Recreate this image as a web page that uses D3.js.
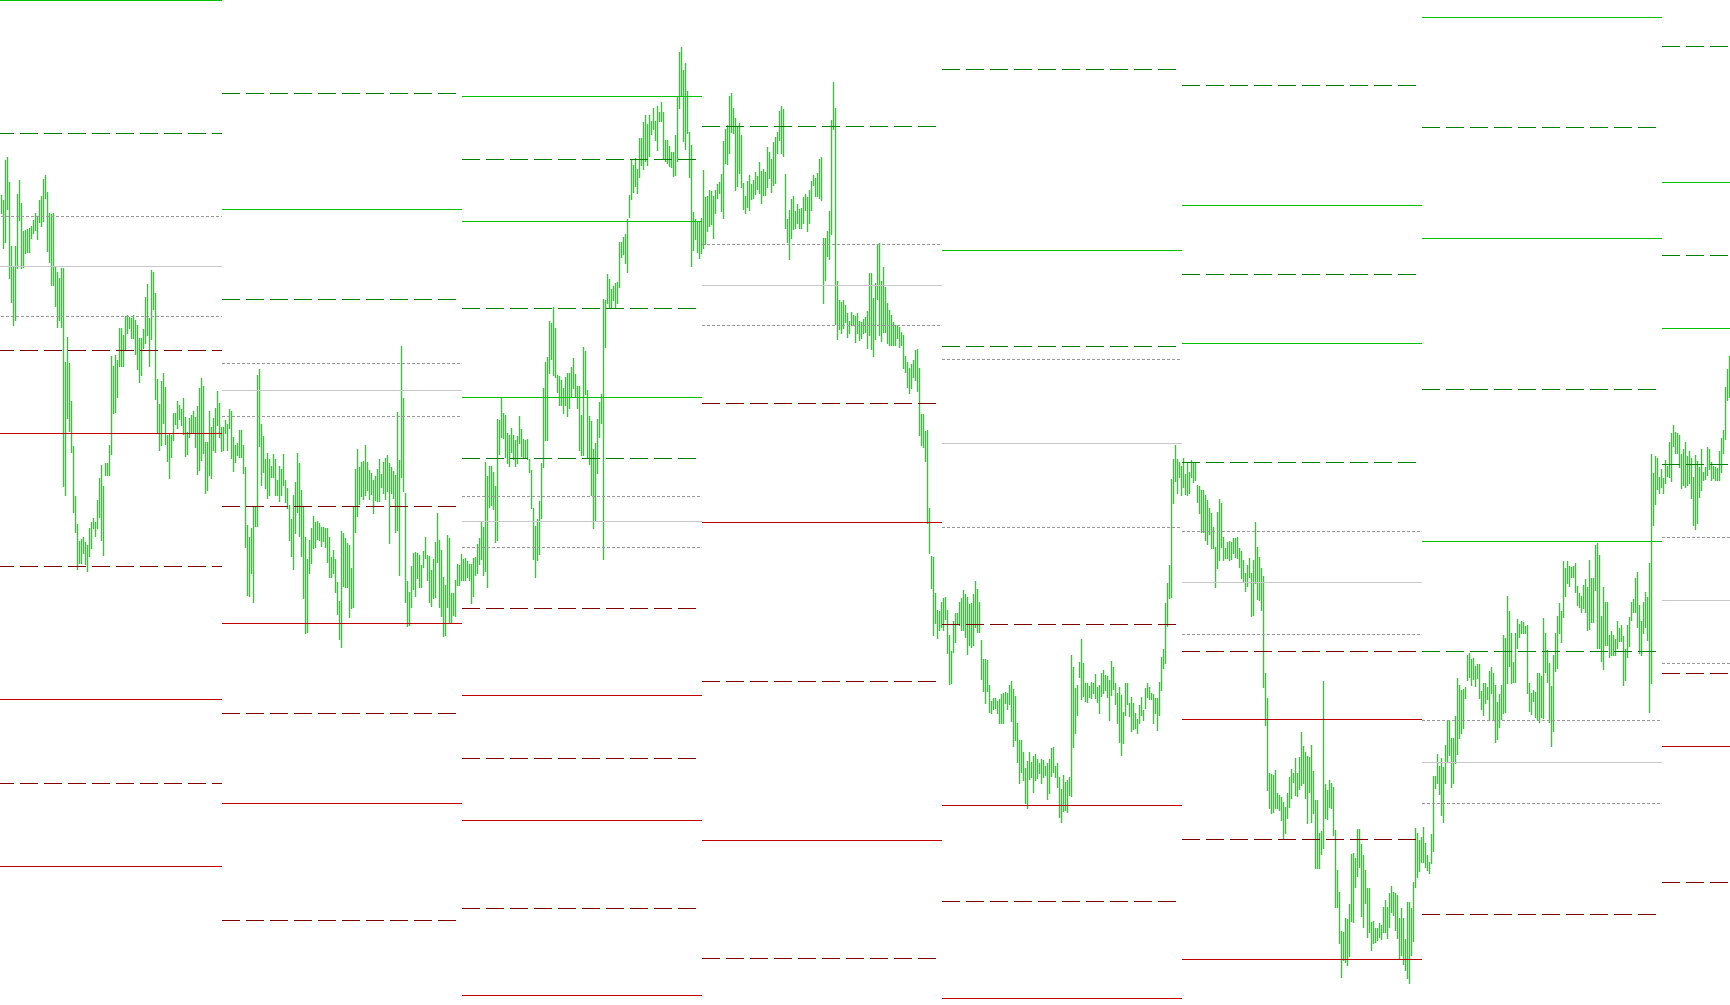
<!DOCTYPE html>
<html><head><meta charset="utf-8">
<script src="https://cdn.jsdelivr.net/npm/d3@7"></script>
<style>html,body{margin:0;padding:0;background:#fff;overflow:hidden}</style>
</head><body><svg id="chart" width="1730" height="1005"></svg>
<script>
// first bar index of each daily session
const sessionStarts = [-2, 111, 231, 351, 471, 591, 711, 831];
const barsPerSession = 120;

// [high, low] price bars per session
const bars0 = [[1805,1787],[1800,1752],[1840,1758],[1843,1791],[1818,1722],[1754,1698],[1733,1675],[1754,1680],[1806,1732],[1820,1780],
[1797,1732],[1769,1733],[1770,1747],[1771,1748],[1772,1748],[1774,1762],[1780,1767],[1787,1770],[1783,1761],[1800,1778],
[1804,1774],[1821,1779],[1825,1802],[1808,1749],[1787,1738],[1786,1715],[1787,1715],[1733,1694],[1728,1673],[1722,1680],
[1732,1673],[1732,1514],[1638,1505],[1663,1582],[1637,1569],[1599,1548],[1554,1488],[1504,1468],[1476,1431],[1459,1437],
[1461,1437],[1463,1447],[1458,1436],[1455,1429],[1472,1444],[1478,1452],[1482,1472],[1478,1464],[1500,1472],[1522,1483],
[1535,1460],[1514,1445],[1537,1525],[1537,1525],[1555,1525],[1644,1546],[1634,1587],[1645,1588],[1640,1603],[1672,1634],
[1672,1634],[1665,1634],[1684,1650],[1685,1667],[1683,1672],[1682,1662],[1685,1662],[1680,1646],[1675,1631],[1662,1618],
[1662,1625],[1671,1652],[1703,1657],[1716,1665],[1682,1634],[1730,1661],[1728,1691],[1707,1601],[1621,1567],[1596,1550],
[1619,1555],[1627,1577],[1613,1556],[1565,1539],[1566,1522],[1565,1543],[1587,1560],[1587,1576],[1599,1572],[1595,1581],
[1591,1575],[1602,1566],[1583,1544],[1568,1546],[1582,1563],[1585,1567],[1589,1568],[1583,1553],[1594,1526],[1612,1530],
[1622,1540],[1614,1547],[1558,1507],[1558,1510],[1589,1525],[1573,1522],[1582,1550],[1592,1548],[1609,1575],[1597,1563],
[1573,1549]];
const bars1 = [[1573,1550],[1580,1567],[1576,1550],[1591,1572],[1589,1542],[1563,1529],[1555,1538],[1557,1545],[1570,1543],[1570,1543],
[1555,1527],[1533,1453],[1475,1405],[1463,1404],[1472,1427],[1493,1398],[1494,1474],[1625,1474],[1631,1554],[1576,1515],
[1564,1528],[1541,1512],[1547,1502],[1541,1505],[1534,1523],[1546,1523],[1541,1505],[1520,1505],[1534,1499],[1531,1505],
[1546,1515],[1520,1498],[1512,1492],[1495,1460],[1481,1444],[1505,1431],[1518,1467],[1547,1488],[1537,1464],[1510,1444],
[1493,1402],[1463,1367],[1441,1368],[1460,1427],[1472,1437],[1484,1452],[1478,1453],[1479,1461],[1477,1460],[1473,1454],
[1473,1459],[1472,1453],[1472,1438],[1463,1423],[1443,1423],[1450,1427],[1441,1408],[1418,1386],[1399,1361],[1469,1353],
[1467,1414],[1462,1413],[1457,1413],[1455,1383],[1432,1392],[1493,1393],[1531,1468],[1551,1484],[1533,1496],[1538,1504],
[1539,1501],[1555,1505],[1538,1510],[1530,1501],[1527,1506],[1520,1487],[1524,1500],[1531,1499],[1541,1499],[1526,1513],
[1538,1507],[1542,1501],[1545,1509],[1537,1457],[1533,1507],[1529,1502],[1525,1468],[1588,1470],[1540,1425],[1654,1523],
[1602,1509],[1507,1398],[1419,1374],[1408,1375],[1434,1393],[1447,1411],[1448,1404],[1447,1422],[1445,1413],[1435,1413],
[1449,1433],[1463,1442],[1445,1420],[1444,1398],[1430,1394],[1441,1402],[1458,1403],[1487,1438],[1460,1393],[1450,1384],
[1423,1364],[1415,1365],[1465,1393],[1462,1377],[1407,1377],[1407,1385],[1420,1384],[1436,1415],[1435,1415],[1446,1420]];
const bars2 = [[1441,1420],[1442,1420],[1439,1423],[1436,1420],[1436,1397],[1442,1404],[1443,1425],[1456,1427],[1462,1436],[1479,1441],
[1473,1425],[1538,1429],[1524,1413],[1534,1493],[1534,1495],[1528,1491],[1514,1458],[1581,1460],[1580,1546],[1603,1563],
[1587,1562],[1585,1543],[1567,1537],[1565,1534],[1572,1548],[1565,1541],[1560,1534],[1564,1537],[1584,1557],[1571,1544],
[1561,1543],[1560,1543],[1561,1541],[1541,1528],[1530,1492],[1492,1441],[1474,1423],[1481,1440],[1499,1446],[1537,1482],
[1612,1533],[1638,1560],[1643,1560],[1679,1627],[1677,1641],[1693,1625],[1672,1623],[1625,1608],[1624,1595],[1620,1595],
[1612,1587],[1623,1595],[1627,1584],[1627,1592],[1633,1604],[1642,1612],[1626,1603],[1614,1592],[1614,1550],[1585,1545],
[1653,1545],[1649,1606],[1610,1542],[1584,1536],[1579,1505],[1551,1472],[1557,1479],[1581,1527],[1598,1563],[1606,1577],
[1701,1441],[1700,1653],[1726,1697],[1721,1692],[1711,1692],[1714,1700],[1717,1692],[1718,1697],[1758,1713],[1758,1743],
[1763,1746],[1766,1737],[1781,1728],[1805,1783],[1841,1801],[1835,1808],[1842,1814],[1831,1807],[1862,1823],[1862,1835],
[1878,1831],[1885,1839],[1876,1835],[1885,1844],[1879,1866],[1892,1871],[1879,1860],[1894,1850],[1888,1879],[1898,1879],
[1888,1841],[1860,1839],[1860,1837],[1854,1834],[1848,1833],[1848,1824],[1865,1825],[1903,1839],[1948,1892],[1953,1904],
[1930,1859],[1937,1851],[1909,1867],[1868,1823],[1855,1734],[1788,1750],[1781,1761],[1778,1748],[1778,1742],[1782,1747]];
const bars3 = [[1830,1752],[1803,1756],[1804,1769],[1810,1774],[1809,1776],[1804,1762],[1810,1787],[1816,1802],[1818,1807],[1826,1789],
[1859,1782],[1871,1837],[1875,1836],[1904,1847],[1907,1868],[1892,1867],[1882,1810],[1874,1814],[1877,1827],[1865,1813],
[1817,1791],[1804,1787],[1819,1793],[1825,1790],[1816,1801],[1820,1802],[1828,1806],[1824,1811],[1838,1807],[1829,1797],
[1831,1805],[1828,1805],[1853,1813],[1848,1822],[1841,1808],[1858,1815],[1863,1817],[1868,1847],[1889,1860],[1894,1847],
[1891,1844],[1826,1772],[1781,1758],[1790,1741],[1801,1762],[1804,1771],[1789,1772],[1796,1777],[1791,1772],[1792,1772],
[1803,1777],[1806,1790],[1803,1769],[1810,1777],[1819,1790],[1825,1815],[1822,1804],[1827,1804],[1841,1802],[1843,1800],
[1762,1697],[1762,1720],[1769,1744],[1789,1741],[1880,1766],[1918,1871],[1892,1676],[1719,1661],[1700,1671],[1698,1667],
[1700,1672],[1695,1678],[1687,1663],[1679,1667],[1688,1675],[1685,1676],[1684,1658],[1687,1667],[1679,1660],[1678,1662],
[1681,1667],[1683,1668],[1689,1652],[1727,1665],[1727,1651],[1702,1644],[1717,1661],[1756,1701],[1757,1665],[1719,1659],
[1733,1668],[1713,1668],[1697,1657],[1690,1655],[1685,1655],[1678,1655],[1675,1655],[1675,1662],[1673,1653],[1668,1655],
[1665,1632],[1644,1628],[1638,1613],[1632,1607],[1636,1612],[1640,1623],[1650,1620],[1651,1609],[1632,1565],[1586,1555],
[1586,1553],[1569,1539],[1570,1477],[1492,1447],[1444,1412],[1443,1365],[1407,1377],[1390,1362],[1389,1370],[1398,1373]];
const bars4 = [[1402,1370],[1403,1381],[1390,1347],[1365,1316],[1349,1317],[1379,1348],[1387,1358],[1387,1377],[1398,1375],[1402,1370],
[1410,1370],[1406,1363],[1403,1346],[1396,1355],[1397,1353],[1406,1355],[1419,1373],[1411,1368],[1398,1368],[1360,1321],
[1341,1309],[1341,1297],[1340,1309],[1315,1288],[1299,1287],[1302,1291],[1302,1292],[1299,1287],[1301,1277],[1306,1277],
[1307,1277],[1308,1297],[1307,1291],[1315,1296],[1319,1279],[1311,1254],[1304,1260],[1277,1238],[1260,1217],[1260,1228],
[1248,1220],[1232,1197],[1239,1192],[1248,1221],[1238,1223],[1244,1208],[1246,1220],[1241,1222],[1237,1227],[1241,1217],
[1240,1223],[1234,1225],[1237,1201],[1241,1207],[1252,1224],[1253,1228],[1234,1223],[1237,1213],[1223,1183],[1211,1178],
[1225,1189],[1218,1190],[1220,1188],[1223,1205],[1345,1204],[1333,1253],[1312,1267],[1315,1285],[1338,1323],[1361,1301],
[1337,1304],[1317,1299],[1317,1298],[1314,1303],[1318,1302],[1317,1307],[1326,1302],[1313,1298],[1315,1287],[1327,1304],
[1330,1307],[1325,1310],[1324,1303],[1320,1280],[1339,1305],[1333,1311],[1317,1296],[1307,1277],[1313,1258],[1305,1245],
[1288,1257],[1317,1285],[1317,1296],[1297,1284],[1303,1269],[1297,1271],[1287,1272],[1281,1267],[1295,1277],[1303,1285],
[1290,1280],[1312,1292],[1317,1303],[1313,1301],[1307,1301],[1306,1277],[1302,1287],[1302,1270],[1318,1285],[1343,1310],
[1351,1332],[1397,1337],[1417,1374],[1435,1402],[1521,1403],[1541,1497],[1555,1519],[1541,1507],[1538,1523],[1534,1505]];
const bars5 = [[1542,1513],[1526,1506],[1537,1505],[1528,1507],[1540,1523],[1538,1518],[1537,1520],[1515,1498],[1514,1487],[1510,1468],
[1510,1468],[1505,1460],[1500,1456],[1492,1466],[1487,1452],[1473,1452],[1453,1413],[1488,1432],[1501,1440],[1497,1453],
[1463,1440],[1452,1442],[1458,1442],[1459,1440],[1458,1441],[1462,1447],[1462,1443],[1463,1442],[1452,1433],[1449,1422],
[1440,1418],[1427,1409],[1435,1414],[1442,1423],[1427,1384],[1440,1385],[1478,1417],[1453,1401],[1443,1400],[1432,1390],
[1424,1313],[1327,1275],[1302,1210],[1227,1192],[1226,1187],[1225,1188],[1230,1192],[1207,1192],[1205,1190],[1203,1180],
[1198,1162],[1193,1167],[1207,1182],[1223,1193],[1231,1202],[1227,1218],[1242,1205],[1227,1204],[1243,1211],[1268,1215],
[1254,1217],[1248,1202],[1244,1177],[1243,1208],[1255,1178],[1229,1187],[1200,1132],[1200,1132],[1167,1132],[1169,1146],
[1319,1152],[1216,1182],[1210,1181],[1220,1193],[1217,1192],[1213,1165],[1170,1093],[1130,1093],[1108,1057],[1069,1023],
[1068,1040],[1082,1038],[1081,1035],[1096,1044],[1146,1079],[1147,1078],[1142,1113],[1171,1124],[1171,1133],[1156,1084],
[1145,1073],[1130,1097],[1112,1063],[1112,1068],[1078,1050],[1079,1057],[1072,1058],[1072,1060],[1077,1063],[1075,1061],
[1093,1068],[1100,1068],[1093,1062],[1107,1073],[1114,1088],[1108,1085],[1107,1070],[1105,1062],[1082,1042],[1092,1045],
[1082,1036],[1061,1030],[1098,1022],[1098,1017],[1092,1045],[1118,1059],[1172,1113],[1167,1123],[1160,1129],[1163,1138]];
const bars6 = [[1173,1138],[1157,1133],[1145,1130],[1138,1127],[1166,1137],[1224,1149],[1224,1212],[1246,1217],[1234,1206],[1242,1185],
[1233,1178],[1255,1217],[1280,1238],[1279,1245],[1262,1213],[1262,1217],[1284,1237],[1322,1246],[1315,1262],[1310,1267],
[1311,1272],[1313,1302],[1345,1320],[1347,1323],[1341,1315],[1342,1321],[1334,1314],[1336,1322],[1336,1302],[1309,1291],
[1317,1285],[1317,1297],[1313,1301],[1329,1280],[1333,1307],[1327,1280],[1315,1258],[1298,1261],[1306,1273],[1315,1281],
[1365,1287],[1362,1288],[1404,1317],[1389,1334],[1367,1317],[1338,1318],[1367,1318],[1381,1352],[1376,1363],[1379,1367],
[1378,1367],[1374,1367],[1375,1307],[1317,1289],[1307,1286],[1310,1299],[1308,1283],[1327,1280],[1327,1278],[1324,1283],
[1382,1282],[1367,1328],[1350,1318],[1337,1278],[1314,1254],[1345,1269],[1367,1329],[1384,1332],[1397,1367],[1389,1358],
[1439,1383],[1432,1404],[1439,1417],[1434,1414],[1433,1423],[1434,1423],[1437,1408],[1414,1395],[1407,1393],[1404,1388],
[1415,1392],[1421,1388],[1413,1370],[1440,1371],[1422,1378],[1422,1378],[1455,1410],[1457,1352],[1445,1352],[1384,1339],
[1413,1331],[1398,1355],[1398,1355],[1365,1343],[1369,1345],[1365,1345],[1361,1345],[1379,1352],[1372,1359],[1375,1359],
[1364,1315],[1351,1320],[1375,1343],[1383,1354],[1398,1380],[1401,1388],[1422,1388],[1428,1373],[1395,1347],[1379,1345],
[1398,1367],[1408,1373],[1403,1360],[1437,1288],[1546,1317],[1527,1475],[1544,1496],[1542,1511],[1523,1507],[1531,1513]];
const bars7 = [[1522,1507],[1540,1517],[1534,1524],[1558,1523],[1567,1519],[1575,1554],[1568,1547],[1567,1547],[1565,1533],[1546,1512],
[1551,1515],[1558,1513],[1544,1515],[1549,1517],[1542,1502],[1523,1475],[1545,1471],[1539,1477],[1533,1503],[1551,1510],
[1528,1520],[1533,1521],[1553,1525],[1551,1531],[1538,1520],[1534,1522],[1533,1520],[1532,1520],[1549,1520],[1562,1528],
[1570,1547],[1613,1561],[1631,1600],[1644,1603]];

// pivot levels per session: [kind, price]
// kinds: R = resistance, RM = resistance midpoint, PB = pivot band, P = pivot, SM = support midpoint, S = support
const levels0 = [["R",2000],["RM",1867],["PB",1784],["P",1734],["PB",1684],["SM",1650],["S",1567],["SM",1434],["S",1301],["SM",1217],["S",1134]];
const levels1 = [["RM",1907],["R",1791],["RM",1701],["PB",1637],["P",1610],["PB",1584],["SM",1494],["S",1377],["SM",1287],["S",1197],["SM",1080]];
const levels2 = [["R",1904],["RM",1841],["R",1779],["RM",1692],["R",1603],["RM",1542],["PB",1504],["P",1479],["PB",1453],["SM",1392],["S",1305],["SM",1242],["S",1180],["SM",1092],["S",1005]];
const levels3 = [["RM",1874],["PB",1756],["P",1715],["PB",1675],["SM",1597],["S",1478],["SM",1319],["S",1160],["SM",1042]];
const levels4 = [["RM",1931],["R",1750],["RM",1654],["PB",1641],["P",1557],["PB",1473],["SM",1376],["S",1195],["SM",1099],["S",1002]];
const levels5 = [["RM",1915],["R",1795],["RM",1726],["R",1657],["RM",1538],["PB",1469],["P",1418],["PB",1366],["SM",1349],["S",1281],["SM",1161],["S",1041]];
const levels6 = [["R",1983],["RM",1873],["R",1762],["RM",1611],["R",1459],["RM",1349],["PB",1280],["P",1238],["PB",1197],["SM",1086]];
const levels7 = [["RM",1954],["R",1818],["RM",1745],["R",1672],["RM",1536],["PB",1463],["P",1400],["PB",1337],["SM",1327],["S",1254],["SM",1118]];

const allBarSets = [bars0, bars1, bars2, bars3, bars4, bars5, bars6, bars7];
const allLevels = [levels0, levels1, levels2, levels3, levels4, levels5, levels6, levels7];

const W = 1730, H = 1005;
const svg = d3.select("#chart");
const x = d3.scaleLinear().domain([0, 865]).range([1.5, 1731.5]);
const y = d3.scaleLinear().domain([995, 2000]).range([H, 0]);

const styles = {
  R:  {stroke: "#00c000", dash: null},
  RM: {stroke: "#008000", dash: "18,6"},
  PB: {stroke: "#999999", dash: "3,2"},
  P:  {stroke: "#c8c8c8", dash: null},
  SM: {stroke: "#800000", dash: "18,6"},
  S:  {stroke: "#c00000", dash: null}
};

// flatten bars with global index
const bars = [];
let idx = 0;
allBarSets.forEach(set => set.forEach(b => { bars.push({i: idx++, h: b[0], l: b[1]}); }));

svg.append("g").attr("class", "bars")
  .selectAll("line").data(bars).join("line")
  .attr("x1", d => x(d.i)).attr("x2", d => x(d.i))
  .attr("y1", d => Math.round(y(d.h)))
  .attr("y2", d => Math.round(y(d.l)) + 1)
  .attr("stroke", "#10e010").attr("stroke-width", 1.4);

const levelData = [];
allLevels.forEach((lv, p) => {
  const s = sessionStarts[p];
  const e = p < sessionStarts.length - 1 ? sessionStarts[p + 1] : s + barsPerSession;
  lv.forEach(([kind, price]) => levelData.push({kind, price, x0: x(s) - 1.5, x1: x(e) - 1.5}));
});

svg.append("g").attr("class", "levels")
  .selectAll("line").data(levelData).join("line")
  .attr("x1", d => d.x0).attr("x2", d => d.x1)
  .attr("y1", d => Math.round(y(d.price)) + 0.5)
  .attr("y2", d => Math.round(y(d.price)) + 0.5)
  .attr("stroke", d => styles[d.kind].stroke)
  .attr("stroke-width", 1)
  .attr("stroke-dasharray", d => styles[d.kind].dash)
  .attr("shape-rendering", "crispEdges");
</script>
</body></html>
